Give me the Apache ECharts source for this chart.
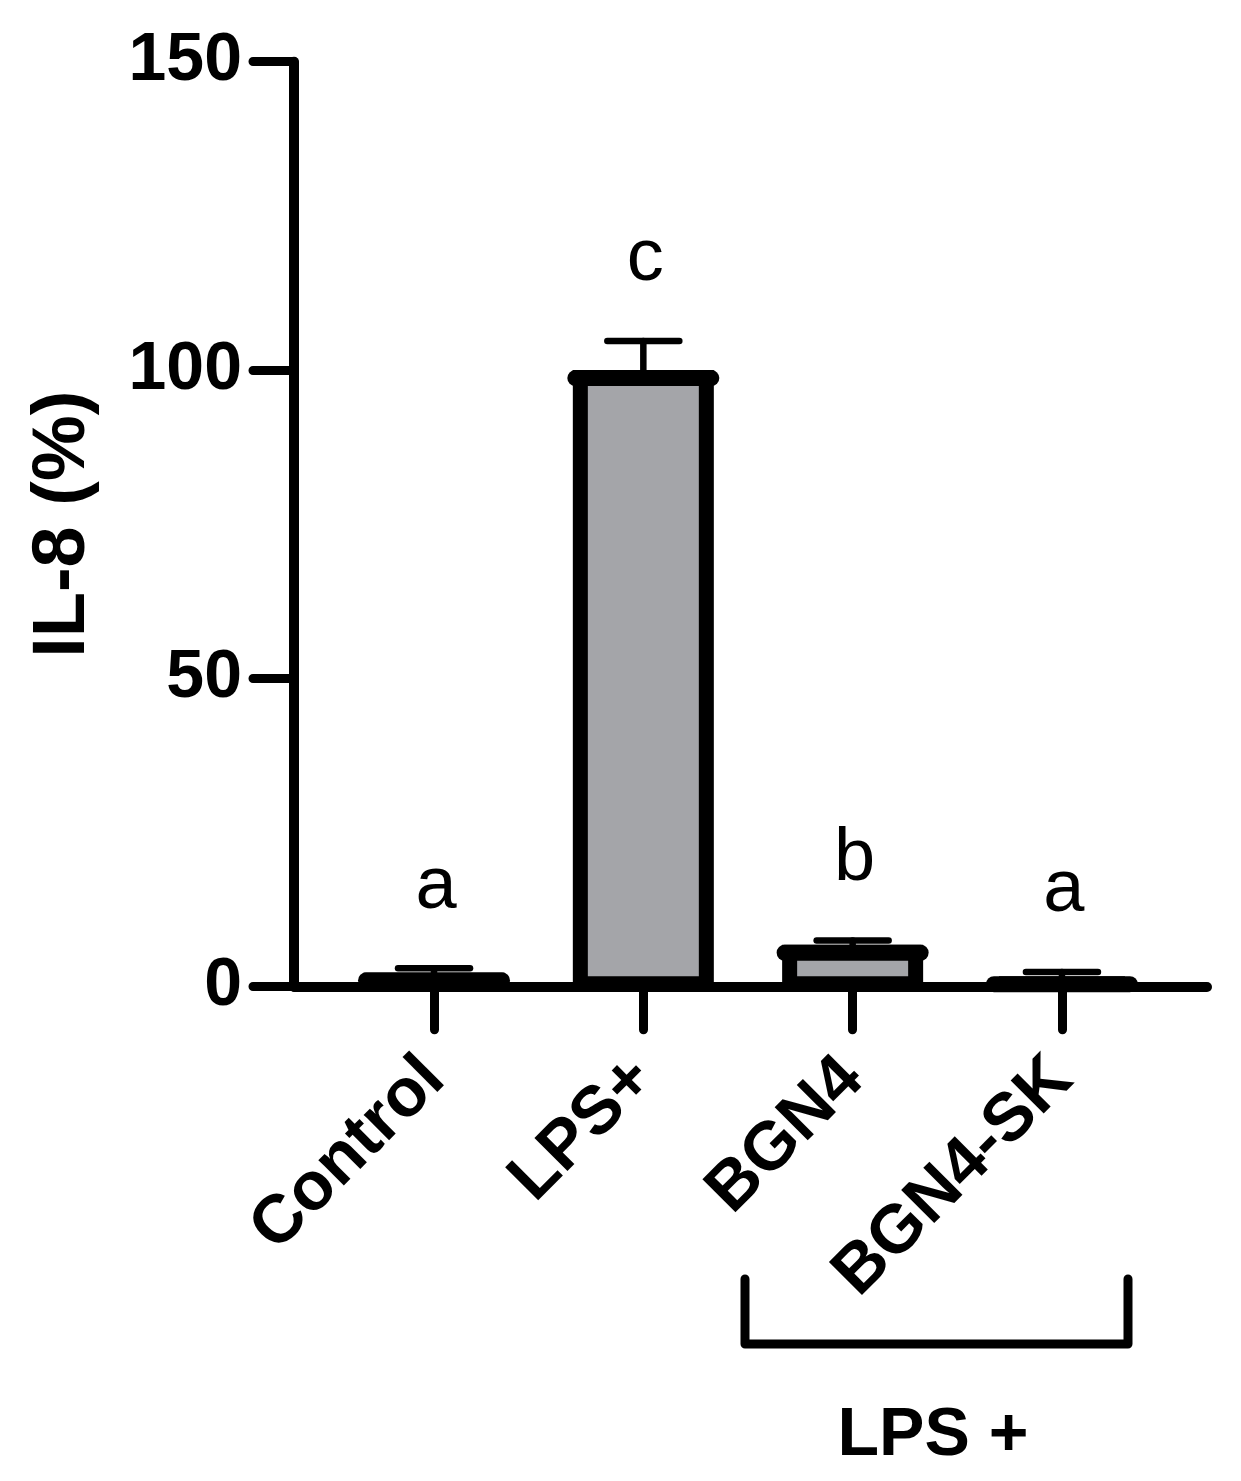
<!DOCTYPE html>
<html>
<head>
<meta charset="utf-8">
<script src="https://cdn.jsdelivr.net/npm/echarts@6/dist/echarts.min.js"></script>
<style>
  html, body { margin: 0; padding: 0; background: #fff; }
  #chart { width: 1241px; height: 1481px; }
</style>
</head>
<body>
<div id="chart"></div>
<script>
// 数据
const groups = ['Control', 'LPS+', 'BGN4', 'BGN4-SK']
const positions = [1, 2, 3, 4]
const means = [2.3, 100, 6.8, 1.7]
const errTops = [3.0, 104.7, 7.5, 2.4]
const letters = ['a', 'c', 'b', 'a']
const yTicks = [0, 50, 100, 150]

const FONT = '"Liberation Sans", Arial, sans-serif'
const GRAY = '#a4a5a9'

const chart = echarts.init(document.getElementById('chart'))

const barData = positions.map((p, i) => [p, means[i], errTops[i], i])

const renderBar = function (params, api) {
  const x = api.value(0)
  const v = api.value(1)
  const e = api.value(2)
  const idx = api.value(3)
  const base = api.coord([x, 0])
  const top = api.coord([x, v])
  const err = api.coord([x, e])
  const c = base[0]
  const halfW = 70.5
  const lw = 15
  return {
    type: 'group',
    children: [
      {
        type: 'rect',
        shape: { x: c - halfW + lw / 2, y: top[1] + lw / 2, width: 2 * halfW - lw, height: Math.max(base[1] - top[1] - lw / 2 - 3, 0) },
        style: { fill: GRAY, stroke: '#000', lineWidth: lw, lineJoin: 'miter' }
      },
      {
        type: 'line',
        shape: { x1: c, y1: top[1] + 8, x2: c, y2: err[1] },
        style: { stroke: '#000', lineWidth: 6.5, lineCap: 'round' }
      },
      {
        type: 'line',
        shape: { x1: c - 36, y1: err[1], x2: c + 36, y2: err[1] },
        style: { stroke: '#000', lineWidth: 6.5, lineCap: 'round' }
      },
      {
        type: 'line',
        shape: { x1: c - 68, y1: top[1] + 8, x2: c + 68, y2: top[1] + 8 },
        style: { stroke: '#000', lineWidth: 16, lineCap: 'round' }
      },
      {
        type: 'text',
        x: c + 2,
        y: err[1] - 44,
        style: {
          text: letters[idx],
          fill: '#000',
          font: '74px ' + FONT,
          align: 'center',
          verticalAlign: 'bottom'
        }
      }
    ]
  }
}

const option = {
  backgroundColor: '#fff',
  animation: false,
  grid: { left: 294, right: 34, top: 61.7, bottom: 494.3 },
  xAxis: {
    type: 'value',
    min: 0.331,
    max: 4.693,
    axisLine: { show: true, onZero: false, lineStyle: { color: '#000', width: 10, cap: 'round' } },
    axisTick: { show: true, customValues: positions, length: 43, lineStyle: { color: '#000', width: 9, cap: 'round' } },
    axisLabel: {
      customValues: positions,
      rotate: 45,
      margin: 82,
      color: '#000',
      fontFamily: FONT,
      fontWeight: 'bold',
      fontSize: 68,
      formatter: v => groups[positions.indexOf(Math.round(v))] || ''
    },
    splitLine: { show: false }
  },
  yAxis: {
    type: 'value',
    min: 0,
    max: 150,
    interval: 50,
    name: 'IL-8 (%)',
    nameLocation: 'middle',
    nameGap: 193,
    nameTextStyle: { color: '#000', fontFamily: FONT, fontWeight: 'bold', fontSize: 74 },
    axisLine: { show: true, lineStyle: { color: '#000', width: 10, cap: 'round' } },
    axisTick: { show: true, length: 41, lineStyle: { color: '#000', width: 9, cap: 'round' } },
    axisLabel: {
      margin: 52,
      color: '#000',
      fontFamily: FONT,
      fontWeight: 'bold',
      fontSize: 68,
      formatter: v => (yTicks.indexOf(v) >= 0 ? String(v) : '')
    },
    splitLine: { show: false }
  },
  series: [{
    type: 'custom',
    renderItem: renderBar,
    data: barData,
    encode: { x: 0, y: 1 },
    clip: false,
    z: 1
  }],
  graphic: [
    {
      type: 'polyline',
      shape: { points: [[745, 1279], [745, 1344], [1128, 1344], [1128, 1279]] },
      style: { stroke: '#000', lineWidth: 9, fill: null, lineCap: 'round', lineJoin: 'round' }
    },
    {
      type: 'text',
      x: 933,
      y: 1436,
      style: { text: 'LPS +', fill: '#000', font: 'bold 68px ' + FONT, align: 'center', verticalAlign: 'middle' }
    }
  ]
}

chart.setOption(option)
</script>
</body>
</html>
